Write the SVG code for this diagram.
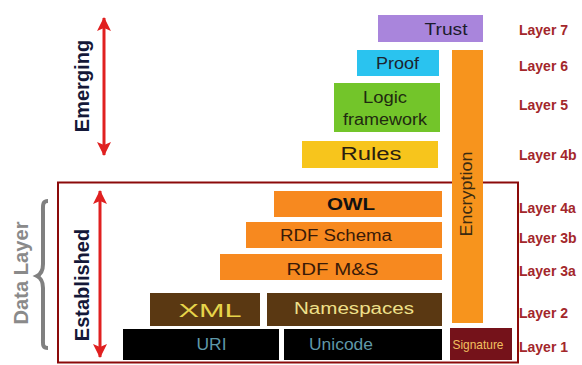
<svg xmlns="http://www.w3.org/2000/svg" width="582" height="365" viewBox="0 0 582 365">
<style>
text{font-family:"Liberation Sans",Arial,sans-serif}
.lbl{font-size:14px;font-weight:bold;fill:#a3272b}
.c{text-anchor:middle}
.orange{fill:#f7891f}
.arr{stroke:#e02020;stroke-width:3;fill:none}
</style>
<defs>
<marker id="ah" viewBox="0 0 14 14" refX="13" refY="7" markerWidth="15" markerHeight="14" markerUnits="userSpaceOnUse" orient="auto-start-reverse">
<path d="M0,0 L14,7 L0,14 L3,7 z" fill="#e02020"/>
</marker>
</defs>
<rect width="582" height="365" fill="#fff"/>

<g id="data-layer-box"><rect x="58" y="182.5" width="460" height="180" fill="none" stroke="#8b0a0a" stroke-width="2"/></g>

<g id="trust"><rect x="378" y="15" width="105" height="27" fill="#a985dc"/><text x="446" y="35" class="c" font-size="17" textLength="43" lengthAdjust="spacingAndGlyphs" fill="#1c1c2c">Trust</text></g>
<g id="proof"><rect x="357" y="50" width="82" height="26" fill="#2ac3ef"/><text x="397.5" y="68.5" class="c" font-size="16" textLength="43" lengthAdjust="spacingAndGlyphs" fill="#1c2430">Proof</text></g>
<g id="logic"><rect x="334" y="83" width="106" height="49" fill="#73c52a"/><text x="385" y="103" class="c" font-size="16" textLength="44" lengthAdjust="spacingAndGlyphs" fill="#1f2a10">Logic</text><text x="385" y="124.5" class="c" font-size="16" textLength="84" lengthAdjust="spacingAndGlyphs" fill="#1f2a10">framework</text></g>
<g id="rules"><rect x="302" y="141" width="136" height="27" fill="#f7c51c"/><text x="371" y="159.5" class="c" font-size="18" textLength="61" lengthAdjust="spacingAndGlyphs" fill="#2a2010">Rules</text></g>
<g id="encryption"><rect x="452" y="50" width="31" height="273" fill="#f7941d"/><text transform="translate(472,194) rotate(-90)" class="c" font-size="17" textLength="85" lengthAdjust="spacingAndGlyphs" fill="#3a2a10">Encryption</text></g>
<g id="owl"><rect x="274" y="191" width="168" height="26" class="orange"/><text x="351" y="210" class="c" font-size="17" font-weight="bold" textLength="48" lengthAdjust="spacingAndGlyphs" fill="#111">OWL</text></g>
<g id="rdf-schema"><rect x="246" y="222" width="196" height="26" class="orange"/><text x="336" y="241" class="c" font-size="16" textLength="112" lengthAdjust="spacingAndGlyphs" fill="#3a1a08">RDF Schema</text></g>
<g id="rdf-ms"><rect x="220" y="254" width="222" height="26" class="orange"/><text x="332.5" y="275" class="c" font-size="16" textLength="92" lengthAdjust="spacingAndGlyphs" fill="#3a1a08">RDF M&amp;S</text></g>
<g id="xml"><rect x="150" y="293" width="110" height="33" fill="#5a3812"/><text x="210" y="316.5" class="c" font-size="19" textLength="63" lengthAdjust="spacingAndGlyphs" fill="#e6d44a">XML</text></g>
<g id="namespaces"><rect x="267" y="293" width="175" height="33" fill="#5a3812"/><text x="354" y="313.5" class="c" font-size="16" textLength="120" lengthAdjust="spacingAndGlyphs" fill="#efe08a">Namespaces</text></g>
<g id="uri"><rect x="123" y="329" width="156" height="31" fill="#000"/><text x="211.5" y="350" class="c" font-size="16" textLength="30" lengthAdjust="spacingAndGlyphs" fill="#5f98a8">URI</text></g>
<g id="unicode"><rect x="284" y="329" width="158" height="31" fill="#000"/><text x="341" y="350" class="c" font-size="17" textLength="64" lengthAdjust="spacingAndGlyphs" fill="#5f98a8">Unicode</text></g>
<g id="signature"><rect x="450" y="328" width="62" height="32" fill="#75121a"/><text x="478" y="349" class="c" font-size="13" textLength="51" lengthAdjust="spacingAndGlyphs" fill="#f2c060">Signature</text></g>

<g id="layer-labels">
<text x="519" y="35" class="lbl">Layer 7</text>
<text x="519" y="71" class="lbl">Layer 6</text>
<text x="519" y="110" class="lbl">Layer 5</text>
<text x="519" y="160" class="lbl">Layer 4b</text>
<text x="519" y="213" class="lbl">Layer 4a</text>
<text x="519" y="243" class="lbl">Layer 3b</text>
<text x="519" y="276" class="lbl">Layer 3a</text>
<text x="519" y="318" class="lbl">Layer 2</text>
<text x="519" y="352" class="lbl">Layer 1</text>
</g>

<g id="connectors">
<line x1="104" y1="18" x2="104" y2="155" class="arr" marker-start="url(#ah)" marker-end="url(#ah)"/>
<line x1="100" y1="191" x2="100" y2="357" class="arr" marker-start="url(#ah)" marker-end="url(#ah)"/>
</g>

<g id="emerging"><text transform="translate(89,86) rotate(-90)" class="c" font-size="20" font-weight="bold" fill="#141838">Emerging</text></g>
<g id="established"><text transform="translate(89,285) rotate(-90)" class="c" font-size="20" font-weight="bold" fill="#141838">Established</text></g>
<g id="data-layer">
<text transform="translate(28,273) rotate(-90)" class="c" font-size="20" font-weight="bold" textLength="103" lengthAdjust="spacingAndGlyphs" fill="#8a8a8a">Data Layer</text>
<path d="M48,201 C42,201 43,206 43,212 L43,264 C43,270 41,274 37,276 C41,278 43,282 43,288 L43,338 C43,344 42,348 48,348" fill="none" stroke="#808080" stroke-width="4"/>
</g>
</svg>
